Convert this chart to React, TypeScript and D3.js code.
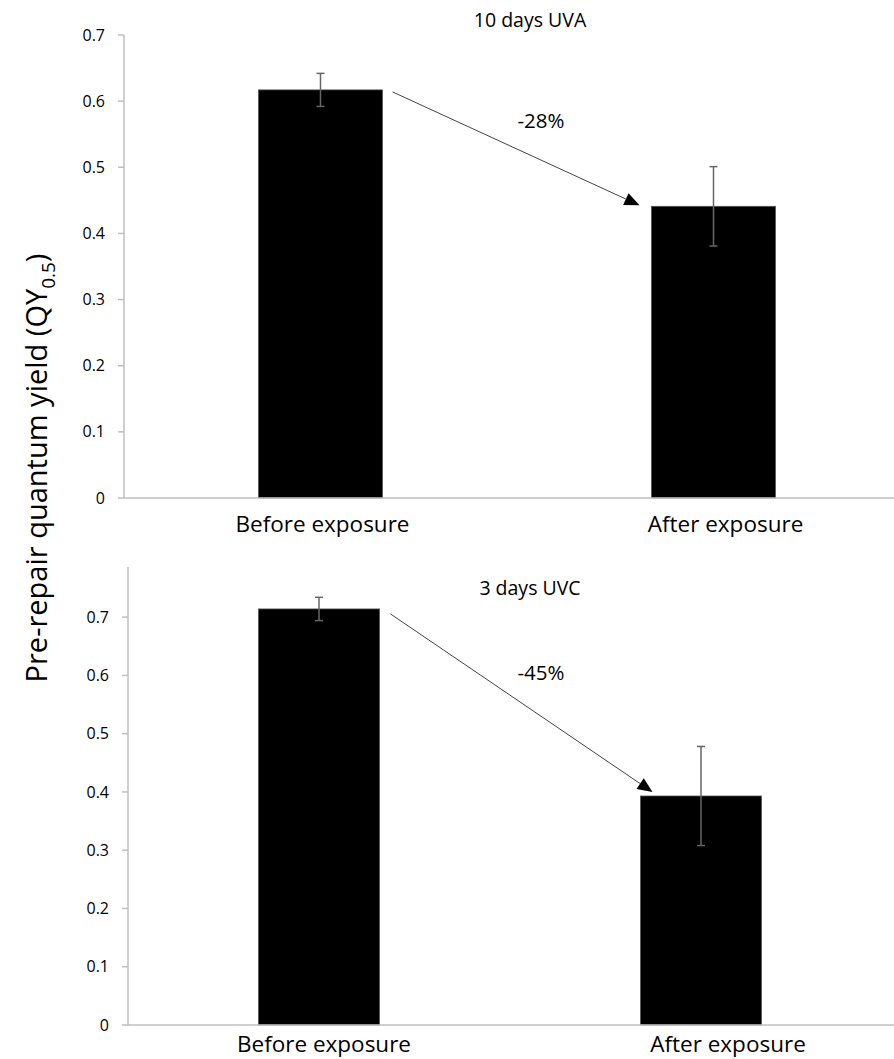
import React from "react";
import * as d3 from "d3";

// Categories shared by both panels
const categories = ["Before exposure", "After exposure"];

// Panel A: 10 days UVA
const uvaTitle = "10 days UVA";
const uvaMeans = [0.617, 0.441];
const uvaErrors = [0.025, 0.06];
const uvaChange = "-28%";
const uvaTicks = [0, 0.1, 0.2, 0.3, 0.4, 0.5, 0.6, 0.7];

// Panel B: 3 days UVC
const uvcTitle = "3 days UVC";
const uvcMeans = [0.714, 0.393];
const uvcErrors = [0.02, 0.085];
const uvcChange = "-45%";
const uvcTicks = [0, 0.1, 0.2, 0.3, 0.4, 0.5, 0.6, 0.7];

const FONT = "'Open Sans', 'Noto Sans', sans-serif";
const AXIS = "#bfbfbf";

type PanelProps = {
  title: string;
  means: number[];
  errors: number[];
  change: string;
  ticks: number[];
  yMax: number;
  top: number;
  bottom: number;
  left: number;
  right: number;
  barWidth: number;
  titleY: number;
  changeX: number;
  changeY: number;
  labelGap: number;
  arrowStart: [number, number];
  arrowEnd: [number, number];
  labelShift: number[];
};

function Panel(p: PanelProps) {
  const x = d3.scalePoint<string>().domain(categories).range([p.left, p.right]).padding(0.5);
  const y = d3.scaleLinear().domain([0, p.yMax]).range([p.bottom, p.top]);
  const capW = 8;

  // arrow runs from the right edge of the first bar to just above the second bar
  const x0 = (x(categories[0]) as number) + p.barWidth / 2 + p.arrowStart[0];
  const y0 = y(p.means[0]) + p.arrowStart[1];
  const x1 = (x(categories[1]) as number) - p.barWidth / 2 + p.arrowEnd[0];
  const y1 = y(p.means[1]) + p.arrowEnd[1];
  const ang = Math.atan2(y1 - y0, x1 - x0);
  const headLen = 15;
  const headHalf = 6.5;
  const bx = x1 - headLen * Math.cos(ang);
  const by = y1 - headLen * Math.sin(ang);
  const px = -Math.sin(ang) * headHalf;
  const py = Math.cos(ang) * headHalf;
  const head = `M${x1},${y1}L${bx + px},${by + py}L${bx - px},${by - py}Z`;

  return (
    <g>
      {/* y axis */}
      <line x1={p.left} x2={p.left} y1={y(p.yMax)} y2={y(0)} stroke={AXIS} strokeWidth={1.5} />
      {p.ticks.map((t) => (
        <g key={t}>
          <line x1={p.left - 6} x2={p.left} y1={y(t)} y2={y(t)} stroke={AXIS} strokeWidth={1.5} />
          <text
            x={p.left - 19}
            y={y(t)}
            dy="0.35em"
            textAnchor="end"
            fontSize={16}
            fontFamily={FONT}
            fill="#000"
          >
            {d3.format("")(t)}
          </text>
        </g>
      ))}
      {/* bars */}
      {categories.map((c, i) => (
        <rect
          key={c}
          x={(x(c) as number) - p.barWidth / 2}
          y={y(p.means[i])}
          width={p.barWidth}
          height={y(0) - y(p.means[i])}
          fill="#000"
          stroke="#555"
          strokeWidth={0.8}
        />
      ))}
      {/* x axis */}
      <line x1={p.left} x2={894} y1={y(0)} y2={y(0)} stroke={AXIS} strokeWidth={1.5} />
      {/* error bars */}
      {categories.map((c, i) => {
        const cx = x(c) as number;
        const hi = y(p.means[i] + p.errors[i]);
        const lo = y(p.means[i] - p.errors[i]);
        return (
          <g key={c} stroke="#666" strokeWidth={1.5}>
            <line x1={cx} x2={cx} y1={hi} y2={lo} />
            <line x1={cx - capW / 2} x2={cx + capW / 2} y1={hi} y2={hi} />
            <line x1={cx - capW / 2} x2={cx + capW / 2} y1={lo} y2={lo} />
          </g>
        );
      })}
      {/* category labels */}
      {categories.map((c, i) => (
        <text
          key={c}
          x={(x(c) as number) + p.labelShift[i]}
          y={y(0) + p.labelGap}
          textAnchor="middle"
          fontSize={22.5}
          fontFamily={FONT}
          fill="#000"
        >
          {c}
        </text>
      ))}
      {/* title */}
      <text x={530} y={p.titleY} textAnchor="middle" fontSize={19.5} fontFamily={FONT} fill="#000">
        {p.title}
      </text>
      {/* change arrow */}
      <line x1={x0} y1={y0} x2={bx} y2={by} stroke="#444" strokeWidth={1} />
      <path d={head} fill="#000" />
      <text x={p.changeX} y={p.changeY} textAnchor="middle" fontSize={20.5} fontFamily={FONT} fill="#000">
        {p.change}
      </text>
    </g>
  );
}

export default function App() {
  return (
    <svg
      width={894}
      height={1059}
      style={{ position: "absolute", left: 0, top: 0, background: "#fff" }}
    >
      <rect width={894} height={1059} fill="#fff" />
      <Panel
        title={uvaTitle}
        means={uvaMeans}
        errors={uvaErrors}
        change={uvaChange}
        ticks={uvaTicks}
        yMax={0.7}
        top={35}
        bottom={498}
        left={124}
        right={910}
        barWidth={124}
        titleY={27}
        changeX={541}
        changeY={128}
        labelGap={34}
        arrowStart={[10, 2]}
        arrowEnd={[-12, -1]}
        labelShift={[2, 12]}
      />
      <Panel
        title={uvcTitle}
        means={uvcMeans}
        errors={uvcErrors}
        change={uvcChange}
        ticks={uvcTicks}
        yMax={0.786}
        top={567}
        bottom={1025}
        left={128}
        right={892}
        barWidth={121}
        titleY={595}
        changeX={541}
        changeY={680}
        labelGap={27}
        arrowStart={[11, 5]}
        arrowEnd={[12, -4]}
        labelShift={[5, 27]}
      />
      {/* shared y axis title */}
      <text
        transform="translate(47,468) rotate(-90)"
        textAnchor="middle"
        fontSize={29}
        fontFamily={FONT}
        fill="#000"
      >
        Pre-repair quantum yield (QY
        <tspan fontSize={19} dy={8}>0.5</tspan>
        <tspan dy={-8}>)</tspan>
      </text>
    </svg>
  );
}
